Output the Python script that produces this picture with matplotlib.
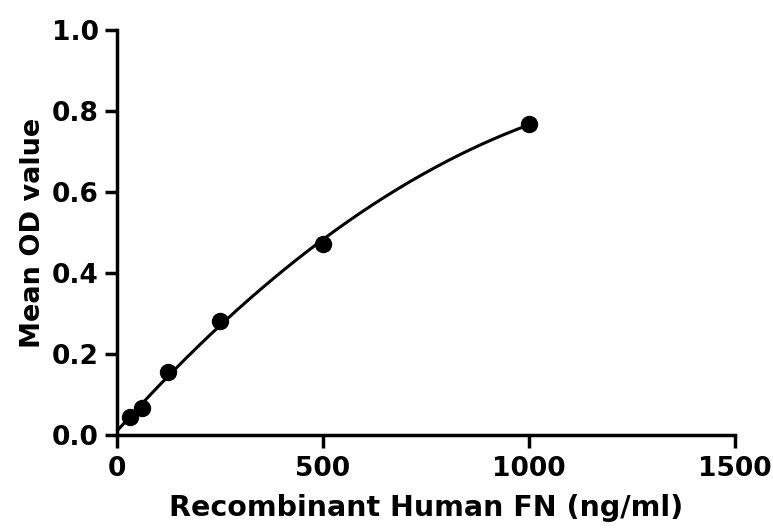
import numpy as np
import matplotlib
matplotlib.use("Agg")
import matplotlib.pyplot as plt

conc = [31.25, 62.5, 125, 250, 500, 1000]
od = [0.043, 0.066, 0.155, 0.282, 0.472, 0.768]
xticks = [0, 500, 1000, 1500]
yticks = [0.0, 0.2, 0.4, 0.6, 0.8, 1.0]

plt.rcParams['font.family'] = ['DejaVu Sans']
plt.rcParams['font.weight'] = 'bold'

fig = plt.figure(figsize=(7.73, 5.29), dpi=100)
ax = fig.add_axes([0.151, 0.178, 0.800, 0.765])

coef = np.polyfit(conc, od, 2)
xf = np.linspace(0, max(conc), 300)
ax.plot(xf, np.polyval(coef, xf), color='black', lw=2.2)
ax.plot(conc, od, 'o', color='black', ms=11.5)

ax.set_xlim(0, 1500)
ax.set_ylim(0, 1.0)
ax.set_xticks(xticks)
ax.set_yticks(yticks)
ax.set_xticklabels([str(v) for v in xticks])
ax.set_yticklabels([f"{v:.1f}" for v in yticks])
for s in ['top', 'right']:
    ax.spines[s].set_visible(False)
for s in ['left', 'bottom']:
    ax.spines[s].set_linewidth(2.5)
ax.tick_params(width=2.5, length=9, labelsize=19, direction='out')
ax.tick_params(axis='x', pad=6)
ax.tick_params(axis='y', pad=4)
ax.set_xlabel("Recombinant Human FN (ng/ml)", fontsize=20.5, fontweight='bold', labelpad=9)
ax.set_ylabel("Mean OD value", fontsize=19.5, fontweight='bold', labelpad=4)
fig.savefig("out.png", dpi=100)
